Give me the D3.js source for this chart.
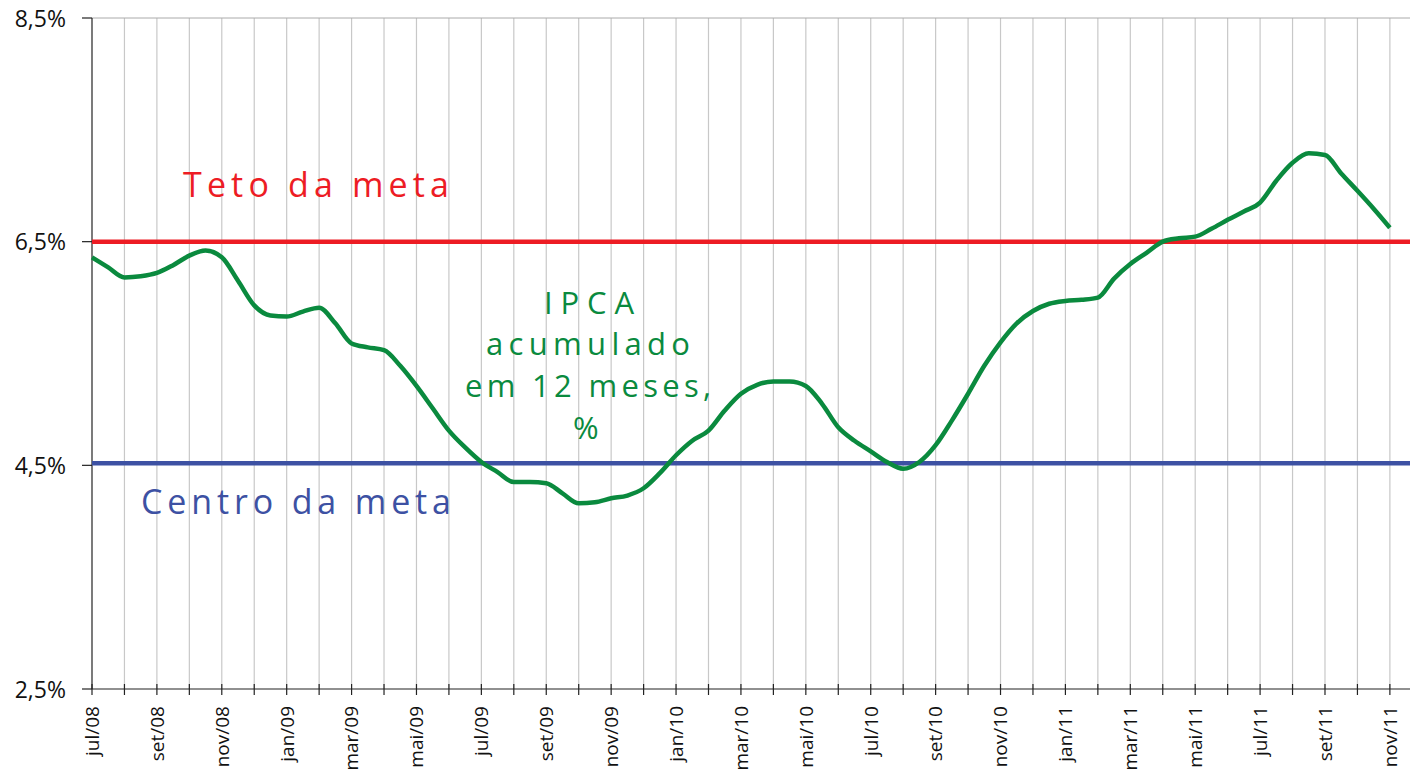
<!doctype html>
<html>
<head>
<meta charset="utf-8"/>
<title>IPCA acumulado em 12 meses</title>
<script src="https://d3js.org/d3.v7.min.js"></script>
<style>
body { margin: 0; background: #fff; }
text { font-family: "Open Sans", "Noto Sans", sans-serif; }
</style>
</head>
<body>
<script>
// meses de jul/08 a nov/11 (indice 0 a 40)
var meses = ["jul/08","ago/08","set/08","out/08","nov/08","dez/08",
  "jan/09","fev/09","mar/09","abr/09","mai/09","jun/09","jul/09","ago/09","set/09","out/09","nov/09","dez/09",
  "jan/10","fev/10","mar/10","abr/10","mai/10","jun/10","jul/10","ago/10","set/10","out/10","nov/10","dez/10",
  "jan/11","fev/11","mar/11","abr/11","mai/11","jun/11","jul/11","ago/11","set/11","out/11","nov/11"];

// IPCA acumulado em 12 meses, lido a cada meio mes
var ipca = [6.36, 6.27, 6.18, 6.19, 6.22, 6.29, 6.375, 6.42, 6.36, 6.15,
  5.93, 5.84, 5.83, 5.875, 5.91, 5.77, 5.59, 5.555, 5.53, 5.39,
  5.21, 5.01, 4.81, 4.66, 4.53, 4.44, 4.35, 4.35, 4.34, 4.25,
  4.16, 4.17, 4.205, 4.23, 4.295, 4.43, 4.59, 4.72, 4.81, 4.99,
  5.14, 5.22, 5.25, 5.25, 5.21, 5.05, 4.84, 4.72, 4.625, 4.53,
  4.47, 4.53, 4.68, 4.90, 5.14, 5.39, 5.60, 5.77, 5.88, 5.945,
  5.97, 5.98, 6.0, 6.17, 6.30, 6.40, 6.5, 6.53, 6.545, 6.615,
  6.695, 6.77, 6.85, 7.045, 7.205, 7.29, 7.275, 7.11, 6.955, 6.795, 6.625];

var teto = 6.5;
var centro = 4.5;
var yTicks = [2.5, 4.5, 6.5, 8.5];

var svg = d3.select("body").append("svg")
  .attr("width", 1415)
  .attr("height", 776);

var x = d3.scaleLinear().domain([0, 40.62]).range([92, 1410]);
var y = d3.scaleLinear().domain([2.5, 8.5]).range([689, 18]);

// grade vertical mensal
svg.selectAll(".grid")
  .data(d3.range(1, meses.length))
  .enter().append("line")
  .attr("x1", function(d){ return x(d); })
  .attr("x2", function(d){ return x(d); })
  .attr("y1", y(8.5))
  .attr("y2", y(2.5))
  .attr("stroke", "#c8c8c8")
  .attr("stroke-width", 1.2);

// linha superior
svg.append("line")
  .attr("x1", x(0)).attr("x2", 1410)
  .attr("y1", y(8.5)).attr("y2", y(8.5))
  .attr("stroke", "#aaaaaa").attr("stroke-width", 1);

// eixo y
svg.append("line")
  .attr("x1", x(0)).attr("x2", x(0))
  .attr("y1", y(8.5)).attr("y2", y(2.5))
  .attr("stroke", "#222").attr("stroke-width", 1.2);

svg.selectAll(".ytick")
  .data(yTicks)
  .enter().append("line")
  .attr("x1", x(0) - 10).attr("x2", x(0))
  .attr("y1", function(d){ return y(d); })
  .attr("y2", function(d){ return y(d); })
  .attr("stroke", "#222").attr("stroke-width", 1.2);

svg.selectAll(".ylab")
  .data(yTicks)
  .enter().append("text")
  .attr("x", 66)
  .attr("y", function(d){ return y(d); })
  .attr("dy", "0.38em")
  .attr("text-anchor", "end")
  .attr("font-size", 23)
  .attr("fill", "#111")
  .text(function(d){ return d3.format(".1f")(d).replace(".", ",") + "%"; });

// eixo x
svg.append("line")
  .attr("x1", x(0)).attr("x2", 1410)
  .attr("y1", y(2.5)).attr("y2", y(2.5))
  .attr("stroke", "#222").attr("stroke-width", 1.2);

svg.selectAll(".xtick")
  .data(d3.range(0, meses.length))
  .enter().append("line")
  .attr("x1", function(d){ return x(d); })
  .attr("x2", function(d){ return x(d); })
  .attr("y1", y(2.5) - 5)
  .attr("y2", y(2.5) + 6)
  .attr("stroke", "#222").attr("stroke-width", 1.2);

svg.selectAll(".xlab")
  .data(meses.filter(function(d, i){ return i % 2 == 0; }))
  .enter().append("text")
  .attr("transform", function(d, i){ return "translate(" + x(i * 2) + "," + 706 + ") rotate(-90)"; })
  .attr("dy", "0.36em")
  .attr("text-anchor", "end")
  .attr("font-size", 19)
  .attr("fill", "#111")
  .text(function(d){ return d; });

// teto e centro da meta
svg.append("line")
  .attr("x1", x(0)).attr("x2", 1410)
  .attr("y1", y(teto)).attr("y2", y(teto))
  .attr("stroke", "#ed1c24").attr("stroke-width", 4.5);

svg.append("line")
  .attr("x1", x(0)).attr("x2", 1410)
  .attr("y1", y(centro) - 2).attr("y2", y(centro) - 2)
  .attr("stroke", "#3d51a3").attr("stroke-width", 4.5);

// IPCA
var linha = d3.line()
  .x(function(d, i){ return x(i / 2); })
  .y(function(d){ return y(d); })
  .curve(d3.curveMonotoneX);

svg.append("path")
  .datum(ipca)
  .attr("d", linha)
  .attr("fill", "none")
  .attr("stroke", "#0a8a3e")
  .attr("stroke-width", 4.5)
  .attr("stroke-linejoin", "round");

// textos
function rotulo(txt, x0, y0, w, cor, tam) {
  svg.append("text")
    .attr("x", x0).attr("y", y0)
    .attr("font-size", tam)
    .attr("fill", cor)
    .attr("textLength", w)
    .attr("lengthAdjust", "spacing")
    .text(txt);
}
rotulo("Teto da meta", 183, 197, 266, "#ed1c24", 34);
rotulo("Centro da meta", 141, 514, 310, "#3d51a3", 34);
rotulo("IPCA", 544, 314, 90, "#0a8a3e", 31);
rotulo("acumulado", 486, 355, 204, "#0a8a3e", 31);
rotulo("em 12 meses,", 465, 397, 246, "#0a8a3e", 31);
rotulo("%", 573, 439, 32, "#0a8a3e", 31);
</script>
</body>
</html>
